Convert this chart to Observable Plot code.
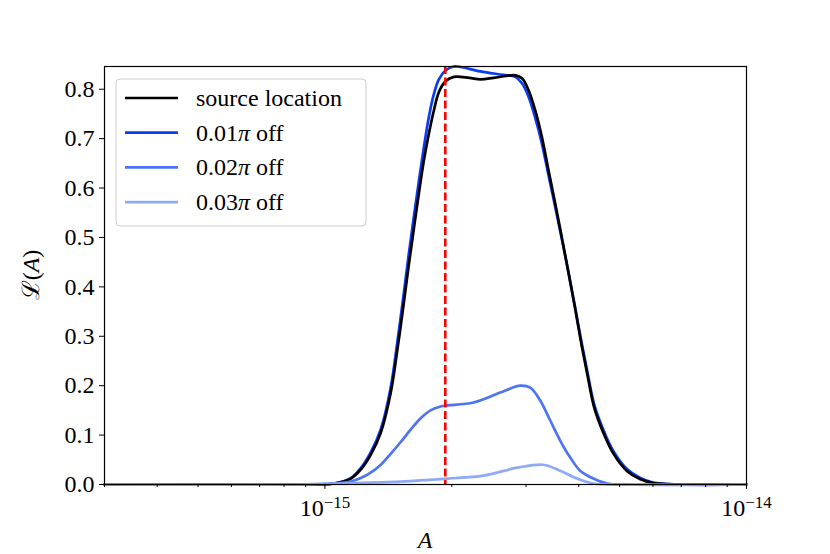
<!DOCTYPE html>
<html><head><meta charset="utf-8">
<script src="https://cdn.jsdelivr.net/npm/d3@7"></script>
<script src="https://cdn.jsdelivr.net/npm/@observablehq/plot@0.6"></script>
<style>body{margin:0;background:#fff}</style>
</head><body><div id="chart"></div>
<script>
// A values in units of 1e-15, likelihood values
const aSource = [0.30, 0.88, 1.05, 1.152, 1.216, 1.284, 1.357, 1.432, 1.485, 1.540, 1.582, 1.626, 1.671, 1.717, 1.765, 1.813, 1.863, 1.932, 2.022, 2.200, 2.338, 2.510, 2.755, 2.829, 2.934, 3.041, 3.154, 3.271, 3.391, 3.517, 3.647, 3.780, 3.915, 4.057, 4.202, 4.355, 4.574, 4.830, 5.196, 5.585, 6.004, 6.944, 10.0];
const lSource = [0, 0, 0.002, 0.012, 0.030, 0.060, 0.105, 0.185, 0.272, 0.370, 0.446, 0.519, 0.590, 0.656, 0.711, 0.757, 0.794, 0.816, 0.825, 0.823, 0.820, 0.823, 0.828, 0.828, 0.822, 0.798, 0.757, 0.703, 0.636, 0.569, 0.500, 0.430, 0.360, 0.285, 0.218, 0.155, 0.105, 0.063, 0.028, 0.011, 0.003, 0, 0];

const aOff1 = [0.30, 0.88, 1.05, 1.152, 1.216, 1.284, 1.357, 1.432, 1.485, 1.540, 1.582, 1.626, 1.671, 1.717, 1.765, 1.813, 1.863, 1.932, 2.022, 2.098, 2.338, 2.648, 2.829, 2.934, 3.041, 3.154, 3.271, 3.391, 3.517, 3.647, 3.780, 3.915, 4.057, 4.202, 4.355, 4.574, 4.830, 5.196, 5.585, 6.004, 6.944, 10.0];
const lOff1 = [0, 0, 0.002, 0.013, 0.033, 0.065, 0.112, 0.196, 0.288, 0.390, 0.468, 0.543, 0.615, 0.683, 0.745, 0.790, 0.820, 0.838, 0.846, 0.845, 0.836, 0.829, 0.825, 0.812, 0.785, 0.742, 0.690, 0.626, 0.562, 0.497, 0.430, 0.362, 0.290, 0.224, 0.161, 0.111, 0.068, 0.032, 0.014, 0.004, 0, 0];

const aOff2 = [0.30, 0.88, 1.05, 1.152, 1.216, 1.284, 1.357, 1.432, 1.513, 1.597, 1.687, 1.780, 1.880, 1.954, 2.251, 2.606, 2.907, 3.069, 3.241, 3.421, 3.614, 3.816, 4.030, 4.332, 4.670, 5.200, 10.0];
const lOff2 = [0, 0, 0.002, 0.006, 0.013, 0.024, 0.040, 0.062, 0.086, 0.111, 0.134, 0.150, 0.158, 0.160, 0.166, 0.186, 0.200, 0.196, 0.170, 0.130, 0.089, 0.055, 0.028, 0.012, 0.002, 0, 0];

const aOff3 = [0.30, 0.88, 1.05, 1.513, 1.954, 2.376, 2.859, 3.290, 3.614, 3.960, 4.332, 5.0, 10.0];
const lOff3 = [0, 0, 0.002, 0.006, 0.012, 0.018, 0.034, 0.040, 0.028, 0.012, 0.002, 0, 0];

const seriesNames = ["source location", "0.01π off", "0.02π off", "0.03π off"];
const seriesColors = ["#000000", "#0a3cf2", "#4d74f2", "#8eaaf4"];
const drawOrder = [1, 0, 2, 3];
const trueA = 1.93e-15;

const yTicks = [0, 0.1, 0.2, 0.3, 0.4, 0.5, 0.6, 0.7, 0.8];
const xMajor = [1e-15, 1e-14];
const xMinor = [3e-16, 4e-16, 5e-16, 6e-16, 7e-16, 8e-16, 9e-16, 2e-15, 3e-15, 4e-15, 5e-15, 6e-15, 7e-15, 8e-15, 9e-15];

const aLists = [aSource, aOff1, aOff2, aOff3];
const lLists = [lSource, lOff1, lOff2, lOff3];
const rows = seriesNames.flatMap((name, k) => aLists[k].map((a, i) => ({series: name, A: a * 1e-15, L: lLists[k][i]})));

const W = 830, H = 554, mL = 104, mR = 84, mT = 66, mB = 70;
const font = "'Liberation Serif', 'DejaVu Serif', serif";

const plot = Plot.plot({
  width: W, height: H,
  marginLeft: mL, marginRight: mR, marginTop: mT, marginBottom: mB,
  style: {fontFamily: font, fontSize: "24px", background: "white", color: "black"},
  x: {type: "log", domain: [3e-16, 1e-14]},
  y: {domain: [0, 0.846]},
  marks: [
    ...drawOrder.map(k => Plot.line(rows.filter(d => d.series === seriesNames[k]), {
      x: "A", y: "L", stroke: seriesColors[k], strokeWidth: 2.7, curve: "catmull-rom"
    })),
    Plot.ruleX([trueA], {stroke: "#ff0000", strokeWidth: 2.6, strokeDasharray: "8,3.5"}),
    Plot.frame({stroke: "black", strokeWidth: 1.2}),
    Plot.axisY({ticks: yTicks, tickFormat: d => d.toFixed(1), tickSize: 5, tickPadding: 5, label: null, fontSize: 24}),
    Plot.axisX({ticks: xMinor, tickSize: 3, tickFormat: () => "", label: null}),
    Plot.axisX({ticks: xMajor, tickSize: 5, tickPadding: 9, tickFormat: d => String(Math.round(Math.log10(d))), label: null, fontSize: 24})
  ]
});

document.getElementById("chart").appendChild(plot);
const svg = d3.select(plot);

// superscript tick labels 10^n
svg.selectAll('g[aria-label="x-axis tick label"] text').each(function() {
  const t = d3.select(this);
  const e = t.text();
  if (!e) return;
  t.text(null);
  t.append("tspan").text("10");
  t.append("tspan").attr("dy", "-0.45em").attr("font-size", "17px").text(e.replace("-", "−"));
});

// axis labels
svg.append("text")
  .attr("x", mL + (W - mL - mR) / 2).attr("y", H - 6)
  .attr("text-anchor", "middle").attr("font-family", font).attr("font-size", 24)
  .attr("font-style", "italic").text("A");
const yl = svg.append("text")
  .attr("transform", `translate(39,${mT + (H - mT - mB) / 2}) rotate(-90)`)
  .attr("text-anchor", "middle").attr("font-family", font).attr("font-size", 24);
yl.append("tspan").text("ℒ");
yl.append("tspan").text("(");
yl.append("tspan").attr("font-style", "italic").text("A");
yl.append("tspan").text(")");

// legend
const lg = svg.append("g").attr("transform", `translate(${mL + 12},${mT + 13})`);
lg.append("rect").attr("width", 250).attr("height", 147).attr("rx", 4)
  .attr("fill", "white").attr("fill-opacity", 0.8).attr("stroke", "#cccccc").attr("stroke-width", 1);
seriesNames.forEach((name, k) => {
  const y = 19 + k * 34.7;
  lg.append("line").attr("x1", 9).attr("x2", 62).attr("y1", y).attr("y2", y)
    .attr("stroke", seriesColors[k]).attr("stroke-width", 2.7);
  const t = lg.append("text").attr("x", 80).attr("y", y + 8).attr("text-anchor", "start")
    .attr("font-family", font).attr("font-size", 24);
  if (name.includes("π")) {
    const [pre, post] = name.split("π");
    t.append("tspan").text(pre);
    t.append("tspan").attr("font-style", "italic").text("π");
    t.append("tspan").text(post);
  } else t.text(name);
});
</script>
</body></html>
